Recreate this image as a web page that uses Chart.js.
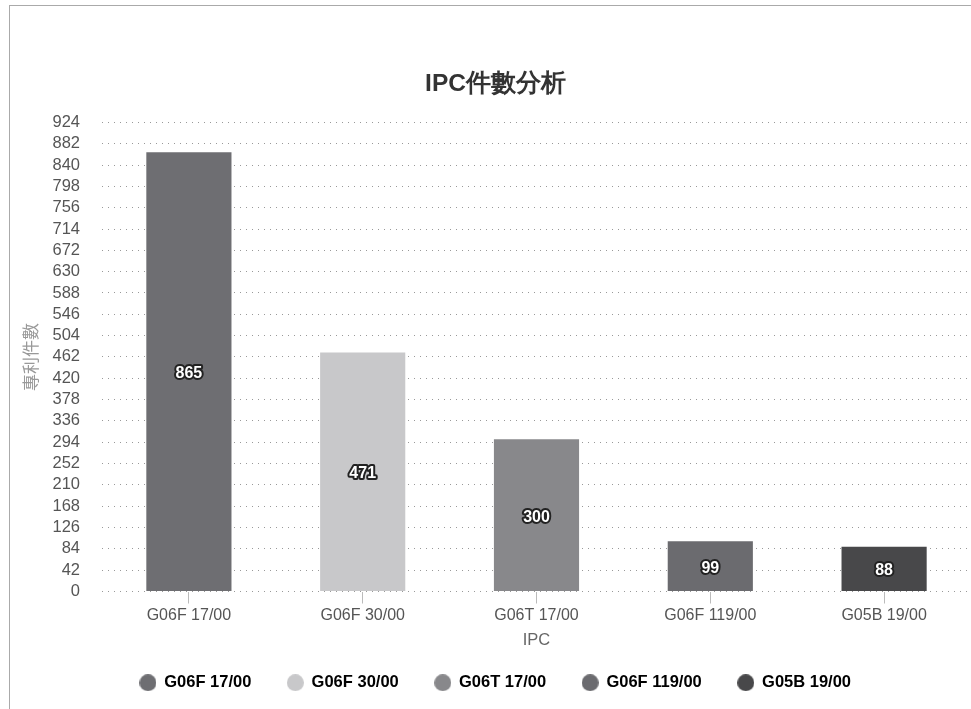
<!DOCTYPE html>
<html>
<head>
<meta charset="utf-8">
<script src="https://cdn.jsdelivr.net/npm/chart.js@4"></script>
<style>
    html, body { margin: 0; padding: 0; background: #fff; }
    #frame { position: absolute; left: 9px; top: 5px; width: 980px; height: 720px; border-left: 1px solid #aaa; border-top: 1px solid #aaa; }
    #wrap { position: absolute; left: 0; top: 0; width: 971px; height: 709px; }
</style>
</head>
<body>
<div id="frame"></div>
<div id="wrap"><canvas id="ipcChart"></canvas></div>
<script>
const categories = ['G06F 17/00', 'G06F 30/00', 'G06T 17/00', 'G06F 119/00', 'G05B 19/00'];
const counts     = [865, 471, 300, 99, 88];
const barColors  = ['#6e6e72', '#c8c8ca', '#88888b', '#6b6b6f', '#48484a'];
const yMax = 924, yStep = 42;
const FONT = '"Liberation Sans", Arial, sans-serif';

// round legend markers drawn on small canvases
function dot(color) {
    const c = document.createElement('canvas');
    c.width = 17; c.height = 17;
    const g = c.getContext('2d');
    g.fillStyle = color;
    g.beginPath(); g.arc(8.5, 8.5, 8.5, 0, Math.PI * 2); g.fill();
    return c;
}

// value labels in the middle of each bar, white with dark outline
const barLabels = {
    id: 'barLabels',
    afterDatasetsDraw(chart) {
        const ctx = chart.ctx;
        const meta = chart.getDatasetMeta(0);
        ctx.save();
        ctx.font = 'bold 16px ' + FONT;
        ctx.textAlign = 'center';
        ctx.textBaseline = 'middle';
        ctx.lineJoin = 'round';
        meta.data.forEach((bar, i) => {
            const y = (bar.y + bar.base) / 2 + 2;
            ctx.lineWidth = 4;
            ctx.strokeStyle = '#222';
            ctx.strokeText(counts[i], bar.x, y);
            ctx.fillStyle = '#fff';
            ctx.fillText(counts[i], bar.x, y);
        });
        ctx.restore();
    }
};

new Chart(document.getElementById('ipcChart'), {
    type: 'bar',
    data: { labels: categories, datasets: [{ data: counts, backgroundColor: barColors, barPercentage: 0.49, categoryPercentage: 1 }] },
    options: {
        responsive: true, maintainAspectRatio: false, animation: false,
        layout: { padding: { left: 20, right: 0, top: 70, bottom: 8 } },
        plugins: {
            title: { display: true, text: 'IPC件數分析', color: '#333', font: { size: 24.5, weight: 'bold', family: FONT }, padding: { top: 0, bottom: 23 } },
            legend: {
                position: 'bottom',
                labels: {
                    usePointStyle: true, pointStyleWidth: 16, boxHeight: 16, padding: 36,
                    color: '#333', font: { size: 16.5, weight: 'bold', family: FONT },
                    generateLabels: chart => categories.map((c, i) => ({ text: c, fillStyle: barColors[i], strokeStyle: barColors[i], lineWidth: 0, pointStyle: dot(barColors[i]), index: i, datasetIndex: 0 }))
                }
            },
            tooltip: { enabled: false }
        },
        scales: {
            x: {
                title: { display: true, text: 'IPC', color: '#666', font: { size: 16.5, family: FONT }, padding: { top: 4, bottom: -12 } },
                grid: { drawOnChartArea: false, drawTicks: true, tickLength: 12, offset: false, color: '#bbb' },
                border: { display: false },
                ticks: { color: '#555', font: { size: 16, family: FONT }, padding: 2 }
            },
            y: {
                min: 0, max: yMax,
                afterFit: s => { s.width = 82; },
                title: { display: true, text: '專利件數', color: '#999', font: { size: 17, family: '"Noto Sans CJK TC", sans-serif' }, padding: { top: 0, bottom: 0 } },
                grid: { color: '#999', drawTicks: false },
                border: { display: false, dash: [1, 5] },
                ticks: { stepSize: yStep, autoSkip: false, color: '#555', padding: 22, font: { size: 16.5, family: FONT } }
            }
        }
    },
    plugins: [barLabels]
});
</script>
</body>
</html>
